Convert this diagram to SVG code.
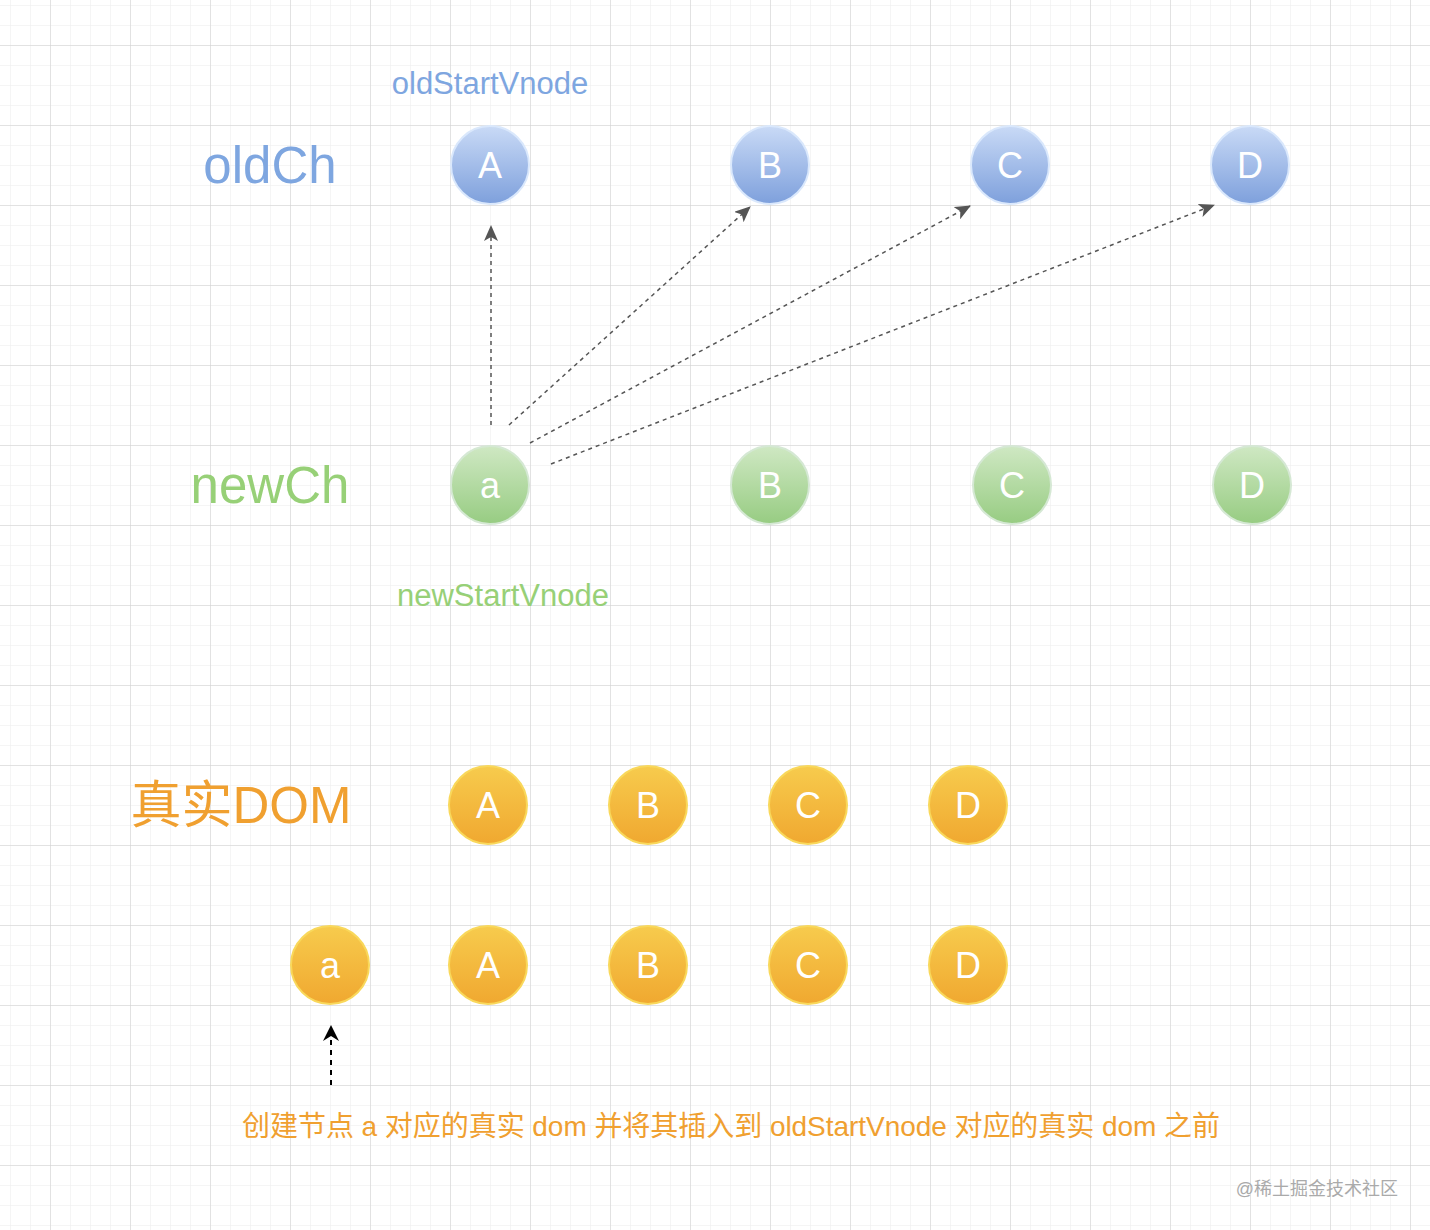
<svg xmlns="http://www.w3.org/2000/svg" width="1430" height="1230" viewBox="0 0 1430 1230">
<defs>
<pattern id="minor" width="20" height="20" patternUnits="userSpaceOnUse" x="10" y="5"><path d="M0 0H20M0 0V20" stroke="#ebebeb" stroke-width="1" fill="none"/></pattern>
<pattern id="major" width="80" height="80" patternUnits="userSpaceOnUse" x="50" y="45"><path d="M0 0H80M0 0V80" stroke="#cfcfcf" stroke-width="1" fill="none"/></pattern>
<linearGradient id="gb" x1="0" y1="0" x2="0" y2="1"><stop offset="0" stop-color="#c9daf6"/><stop offset="1" stop-color="#7ea0dc"/></linearGradient>
<linearGradient id="gg" x1="0" y1="0" x2="0" y2="1"><stop offset="0" stop-color="#cfe8c3"/><stop offset="1" stop-color="#97cc82"/></linearGradient>
<linearGradient id="go" x1="0" y1="0" x2="0" y2="1"><stop offset="0" stop-color="#f7cb4d"/><stop offset="1" stop-color="#f0a830"/></linearGradient>
<marker id="ah" markerWidth="16" markerHeight="14" refX="15" refY="7" orient="auto" markerUnits="userSpaceOnUse"><path d="M0 0L16 7L0 14L4 7Z" fill="#555"/></marker>
<marker id="ahk" markerWidth="16" markerHeight="16" refX="15" refY="8" orient="auto" markerUnits="userSpaceOnUse"><path d="M0 0L16 8L0 16L5 8Z" fill="#000"/></marker>
</defs>
<style>
.t{font-family:"Liberation Sans",Arial,sans-serif}
.c text{font-family:"Liberation Sans",Arial,sans-serif;font-size:36px;fill:#fff;text-anchor:middle}
.b circle{fill:url(#gb);stroke:#dae8fc;stroke-width:2}
.g circle{fill:url(#gg);stroke:#d5e8d4;stroke-width:2}
.o circle{fill:url(#go);stroke:#f9d85b;stroke-width:2}
.d{stroke:#555;stroke-width:1.5;stroke-dasharray:4 4;fill:none;marker-end:url(#ah)}
</style>
<rect width="1430" height="1230" fill="#fff"/>
<rect width="1430" height="1230" fill="url(#minor)"/>
<rect width="1430" height="1230" fill="url(#major)"/>
<text class="t" x="270" y="183" font-size="51" fill="#7ea6e0" text-anchor="middle">oldCh</text>
<text class="t" x="270" y="503" font-size="51" fill="#97d077" text-anchor="middle">newCh</text>
<text class="t" x="241" y="823" font-size="51" fill="#f0a030" text-anchor="middle" style="font-family:'Liberation Sans','Noto Sans CJK SC',sans-serif">真实DOM</text>
<text class="t" x="490" y="94" font-size="31" fill="#7ea6e0" text-anchor="middle">oldStartVnode</text>
<text class="t" x="503" y="606" font-size="31" fill="#97d077" text-anchor="middle">newStartVnode</text>
<g id="old-A" class="c b"><circle cx="490" cy="165" r="39"/><text x="490" y="178">A</text></g>
<g id="old-B" class="c b"><circle cx="770" cy="165" r="39"/><text x="770" y="178">B</text></g>
<g id="old-C" class="c b"><circle cx="1010" cy="165" r="39"/><text x="1010" y="178">C</text></g>
<g id="old-D" class="c b"><circle cx="1250" cy="165" r="39"/><text x="1250" y="178">D</text></g>
<g id="new-a" class="c g"><circle cx="490" cy="485" r="39"/><text x="490" y="498">a</text></g>
<g id="new-B" class="c g"><circle cx="770" cy="485" r="39"/><text x="770" y="498">B</text></g>
<g id="new-C" class="c g"><circle cx="1012" cy="485" r="39"/><text x="1012" y="498">C</text></g>
<g id="new-D" class="c g"><circle cx="1252" cy="485" r="39"/><text x="1252" y="498">D</text></g>
<g id="dom-A" class="c o"><circle cx="488" cy="805" r="39"/><text x="488" y="818">A</text></g>
<g id="dom-B" class="c o"><circle cx="648" cy="805" r="39"/><text x="648" y="818">B</text></g>
<g id="dom-C" class="c o"><circle cx="808" cy="805" r="39"/><text x="808" y="818">C</text></g>
<g id="dom-D" class="c o"><circle cx="968" cy="805" r="39"/><text x="968" y="818">D</text></g>
<g id="dom2-a" class="c o"><circle cx="330" cy="965" r="39"/><text x="330" y="978">a</text></g>
<g id="dom2-A" class="c o"><circle cx="488" cy="965" r="39"/><text x="488" y="978">A</text></g>
<g id="dom2-B" class="c o"><circle cx="648" cy="965" r="39"/><text x="648" y="978">B</text></g>
<g id="dom2-C" class="c o"><circle cx="808" cy="965" r="39"/><text x="808" y="978">C</text></g>
<g id="dom2-D" class="c o"><circle cx="968" cy="965" r="39"/><text x="968" y="978">D</text></g>
<g id="connectors">
<path class="d" d="M491 425V226"/>
<path class="d" d="M509 425L750 207"/>
<path class="d" d="M530 443L970 206"/>
<path class="d" d="M551 464L1214 205"/>
<path d="M331 1085V1026" stroke="#000" stroke-width="2" stroke-dasharray="5 5" fill="none" marker-end="url(#ahk)"/>
</g>
<text x="731" y="1136" font-size="28" fill="#f0a030" text-anchor="middle" textLength="978" style="font-family:'Liberation Sans','Noto Sans CJK SC',sans-serif">创建节点 a 对应的真实 dom 并将其插入到 oldStartVnode 对应的真实 dom 之前</text>
<text x="1398" y="1195" font-size="18" fill="#aaa" text-anchor="end" style="font-family:'Liberation Sans','Noto Sans CJK SC',sans-serif">@稀土掘金技术社区</text>
</svg>
